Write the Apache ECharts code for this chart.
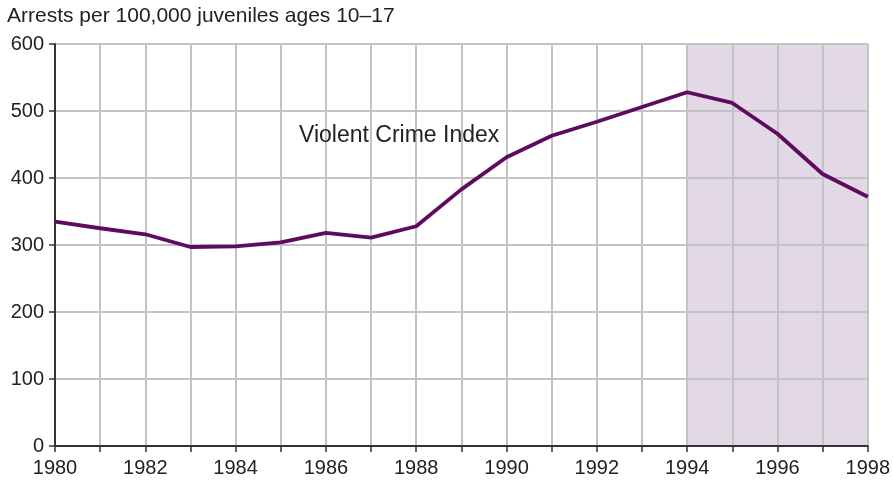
<!DOCTYPE html>
<html>
<head>
<meta charset="utf-8">
<script src="https://cdn.jsdelivr.net/npm/echarts@6/dist/echarts.min.js"></script>
<style>
  html, body { margin: 0; padding: 0; background: #fff; }
  #chart { width: 893px; height: 482px; }
</style>
</head>
<body>
<div id="chart"></div>
<script>
// 数据
const years = [1980, 1981, 1982, 1983, 1984, 1985, 1986, 1987, 1988, 1989,
               1990, 1991, 1992, 1993, 1994, 1995, 1996, 1997, 1998];
const violentRate = [335, 325, 316, 297, 298, 304, 318, 311, 328, 383,
                     431, 463, 484, 506, 528, 512, 466, 406, 372];
const shadeRange = [1994, 1998];
const yTicks = [0, 100, 200, 300, 400, 500, 600];

const chart = echarts.init(document.getElementById('chart'));

const FONT = 'Liberation Sans, Arial, sans-serif';

const option = {
    animation: false,
    textStyle: { fontFamily: FONT },
    grid: { left: 55, right: 25, top: 44, bottom: 36 },
    graphic: [
        {
            type: 'text', left: 7, top: 6, z: 20,
            style: { text: 'Arrests per 100,000 juveniles ages 10–17', fontSize: 21, fill: '#222', fontFamily: FONT }
        },
        {
            type: 'text', left: 299, top: 124, z: 20,
            style: { text: 'Violent Crime Index', fontSize: 23, fill: '#222', fontFamily: FONT }
        }
    ],
    xAxis: {
        type: 'value',
        z: 5,
        min: years[0],
        max: years[years.length - 1],
        interval: 1,
        axisLine: { lineStyle: { color: '#333', width: 2 } },
        axisTick: { show: true, length: 6, lineStyle: { color: '#333', width: 1.5 } },
        axisLabel: {
            color: '#222', fontSize: 20, margin: 12,
            formatter: function(v) { return v % 2 === 0 ? String(v) : ''; }
        },
        splitLine: { show: true, lineStyle: { color: '#c3c3c6', width: 2 } }
    },
    yAxis: {
        type: 'value',
        z: 5,
        min: yTicks[0],
        max: yTicks[yTicks.length - 1],
        interval: 100,
        axisLine: { show: true, lineStyle: { color: '#333', width: 2 } },
        axisTick: { show: true, length: 6, lineStyle: { color: '#333', width: 1.5 } },
        axisLabel: { color: '#222', fontSize: 20, margin: 11 },
        splitLine: { show: true, lineStyle: { color: '#c3c3c6', width: 2 } }
    },
    series: [
        {
            // 阴影区域放到网格线下面
            type: 'line',
            z: 1,
            silent: true,
            symbol: 'none',
            lineStyle: { opacity: 0 },
            data: years.map((y, i) => [y, violentRate[i]]),
            markArea: {
                silent: true,
                itemStyle: { color: '#e3d9e6' },
                data: [[{ xAxis: shadeRange[0] }, { xAxis: shadeRange[1] }]]
            }
        },
        {
            name: 'Violent Crime Index',
            type: 'line',
            z: 10,
            symbol: 'none',
            lineStyle: { color: '#5e0a60', width: 3.8 },
            data: years.map((y, i) => [y, violentRate[i]])
        }
    ]
};

chart.setOption(option);
</script>
</body>
</html>
